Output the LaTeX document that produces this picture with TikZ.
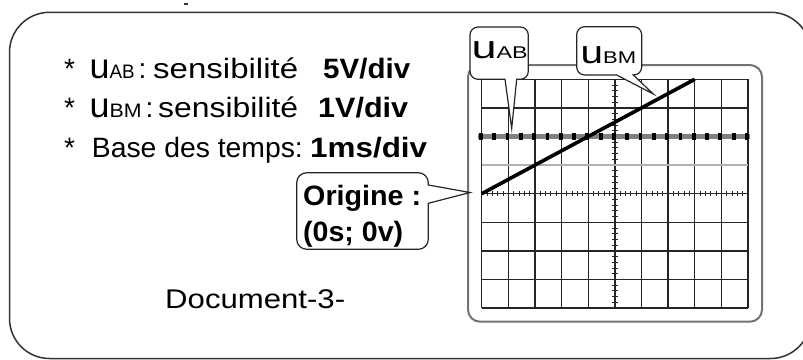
\documentclass[tikz,border=0pt]{standalone}
\usepackage{fontspec}
\setmainfont{Liberation Sans}
\newcommand{\fitw}[2]{\resizebox{#1pt}{\height}{#2}}
\begin{document}
\begin{tikzpicture}[x=1pt,y=-1pt,
  txt/.style={anchor=base west, inner sep=0pt, font=\fontsize{28}{30}\selectfont},
  btxt/.style={anchor=base west, inner sep=0pt, font=\fontsize{28}{30}\selectfont\bfseries},
  bigu/.style={anchor=base west, inner sep=0pt, font=\fontsize{35}{36}\selectfont},
  subcap/.style={anchor=base west, inner sep=0pt, font=\fontsize{19.5}{20}\selectfont},
  framebox/.style={draw=black!80, line width=1.5pt, rounded corners=40pt},
  screenbox/.style={draw=black!55, line width=2pt, rounded corners=12pt},
  gridline/.style={draw=black!85, line width=1.3pt},
  tick/.style={draw=black!85, line width=0.9pt},
  bubble/.style={draw=black!85, fill=white, line width=1.2pt},
  trace/.style={draw=black, line width=3.6pt},
]
\useasboundingbox (0,0) rectangle (803,359);
\clip (0,0) rectangle (803,359);
% outer frame
\draw[framebox] (9.5,12.3) rectangle (810.6,358.5);
\fill[black!80] (184,2.5) rectangle (188,5);
% screen
\draw[screenbox] (468,65) rectangle (762,321.7);
\def\xo{481.7}\def\dx{26.63}\def\yo{79.3}\def\dy{28.6}
% grid
\foreach \i in {0,...,10}
  \draw[gridline] ({\xo+\i*\dx},\yo) -- ({\xo+\i*\dx},{\yo+8*\dy});
\foreach \j in {0,1,4,5,6,7,8}
  \draw[gridline] (\xo,{\yo+\j*\dy}) -- ({\xo+10*\dx},{\yo+\j*\dy});
% light gray line
\draw[black!30, line width=2pt] (\xo,{\yo+3*\dy}) -- ({\xo+10*\dx},{\yo+3*\dy});
% dashed thick line
\draw[black!50, line width=5pt] (478,{\yo+2*\dy}) -- (750,{\yo+2*\dy});
\draw[black, line width=7pt, dash pattern=on 3.8pt off 9.5pt] (479,{\yo+2*\dy}) -- (750,{\yo+2*\dy});
% ticks
\foreach \i in {0,...,9}
  \foreach \k in {1,...,4}
    \draw[tick] ({\xo+(\i+\k/5)*\dx},{\yo+4*\dy-2.5}) -- ({\xo+(\i+\k/5)*\dx},{\yo+4*\dy+2.5});
\foreach \j in {0,...,7}
  \foreach \k in {1,...,4}
    \draw[tick] ({\xo+5*\dx-3},{\yo+(\j+\k/5)*\dy}) -- ({\xo+5*\dx+3},{\yo+(\j+\k/5)*\dy});
% trace
\coordinate (o) at (\xo,{\yo+4*\dy});
\coordinate (e) at ({\xo+8*\dx},\yo);
\draw[trace] (o) -- (e);
% bubbles
\coordinate (tipab) at (511.7,128.3);
\coordinate (tipbm) at (653.3,94);
\coordinate (tipo) at (470,192.5);
\draw[bubble] (tipab) -- (505,79.3) [rounded corners=8pt] -- (470,79.3) -- (470,27) -- (528.3,27) -- (528.3,79.3) [sharp corners] -- (516.7,79.3) -- cycle;
\draw[bubble] (tipbm) -- (616.7,75) [rounded corners=8pt] -- (576.7,75) -- (576.7,26.7) -- (641.7,26.7) -- (641.7,75) [sharp corners] -- (633.3,75) -- cycle;
\draw[bubble] (tipo) -- (428.3,203.3) [rounded corners=10pt] -- (428.3,249.3) -- (296.7,249.3) -- (296.7,172.7) -- (428.3,172.7) [sharp corners] -- (428.3,185) -- cycle;
% bubble texts
\node[bigu, font=\fontsize{32}{34}\selectfont] (bu1) at (471.5,58.7) {\fitw{25}{u}};
\node[subcap, font=\fontsize{17}{18}\selectfont] (bab) at (496.5,58.7) {\fitw{31}{AB}};
\node[bigu, font=\fontsize{32}{34}\selectfont] (bu2) at (580.5,63.3) {\fitw{22.5}{u}};
\node[subcap, font=\fontsize{17}{18}\selectfont] (bbm) at (603,63.3) {\fitw{33}{BM}};
\node[btxt] (or1) at (303,205) {\fitw{118}{Origine :}};
\node[btxt] (or2) at (303,241) {\fitw{100}{(0s; 0v)}};
% left texts
\node[txt] (a1) at (64,78) {*};
\node[bigu] (u1) at (89.5,78) {\fitw{20}{u}};
\node[subcap] (ab1) at (109.5,78) {\fitw{25}{AB}};
\node[txt] (c1) at (138.5,78) {:};
\node[txt] (s1) at (153,78) {\fitw{145}{sensibilité}};
\node[btxt] (v1) at (323,78) {\fitw{87}{5V/div}};
\node[txt] (a2) at (64,117) {*};
\node[bigu] (u2) at (89.5,117) {\fitw{20}{u}};
\node[subcap] (bm2) at (109.5,117) {\fitw{32}{BM}};
\node[txt] (c2) at (145.5,117) {:};
\node[txt] (s2) at (158,117) {\fitw{140}{sensibilité}};
\node[btxt] (v2) at (318,117) {\fitw{90}{1V/div}};
\node[txt] (a3) at (64,157) {*};
\node[txt] (b3) at (91.7,157) {\fitw{211}{Base des temps:}};
\node[btxt] (v3) at (310,157) {\fitw{117}{1ms/div}};
\node[txt, font=\fontsize{27}{30}\selectfont] (doc) at (165,308) {\fitw{180}{Document-3-}};
\end{tikzpicture}
\end{document}
